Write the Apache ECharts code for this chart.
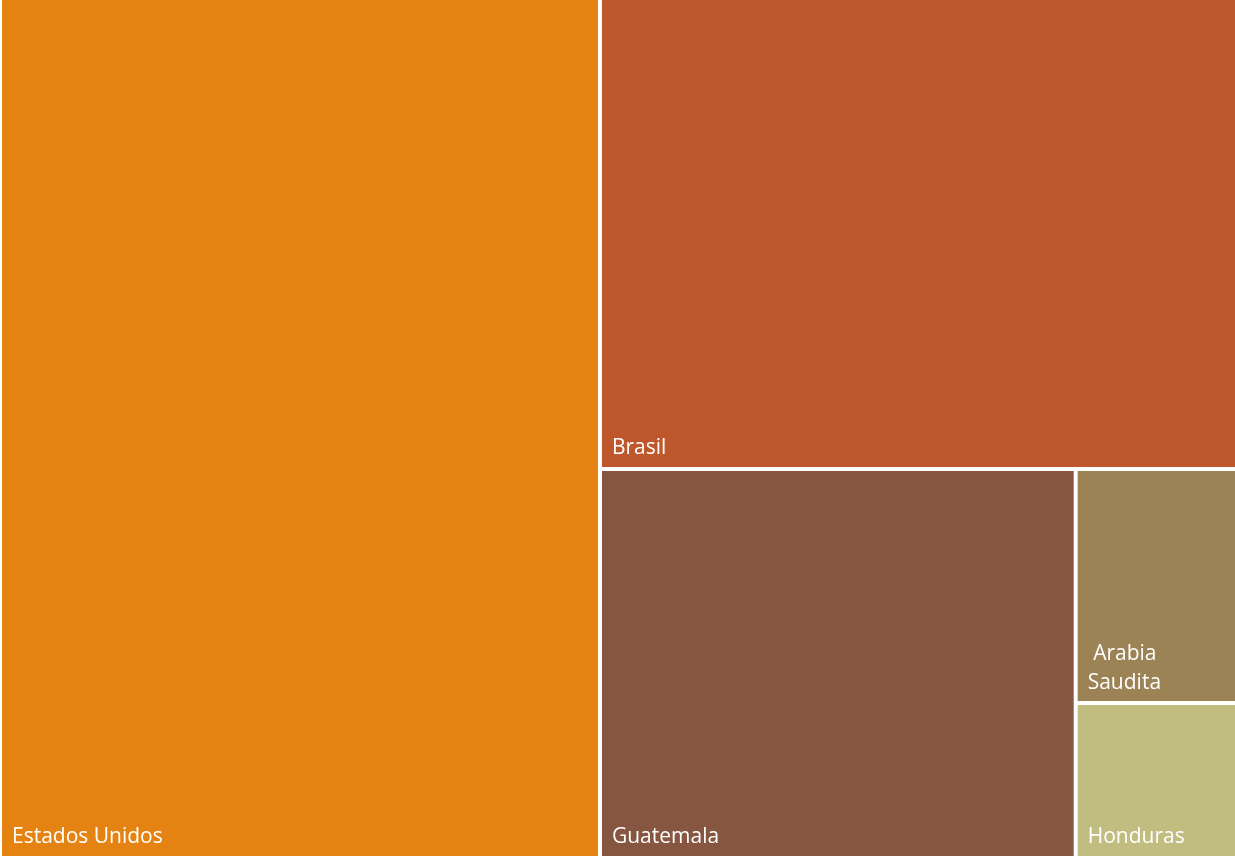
<!DOCTYPE html>
<html lang="es">
<head>
    <meta charset="UTF-8">
    <title>Treemap</title>
    <script src="https://cdn.jsdelivr.net/npm/echarts@6/dist/echarts.min.js"></script>
</head>
<body style="margin: 0; background: #ffffff">
<div id="chart" style="width: 1235px; height: 856px"></div>

<script>
    // datos (% aprox.)
    let countries = ['Estados Unidos', 'Brasil', 'Guatemala', 'Arabia Saudita', 'Honduras'];
    let shares = [48.5, 28.2, 17.4, 3.55, 2.35];
    let colors = ['#E58312', '#BE582C', '#865641', '#9B8356', '#C1BC7F'];

    let data = countries.map(function (name, i) {
        return {
            name: name,
            value: shares[i],
            itemStyle: { color: colors[i] }
        };
    });

    let chart = echarts.init(document.getElementById('chart'));
    chart.setOption({
        animation: false,
        series: [{
            type: 'treemap',
            left: 2,
            top: 0,
            width: 1233,
            height: 856,
            roam: false,
            nodeClick: false,
            squareRatio: 1,
            breadcrumb: { show: false },
            levels: [{
                itemStyle: { gapWidth: 4, borderWidth: 0 }
            }],
            itemStyle: { borderWidth: 0, gapWidth: 4 },
            label: {
                show: true,
                position: 'insideBottomLeft',
                distance: 5,
                padding: [0, 0, -1, 5],
                color: '#ffffff',
                fontFamily: 'Open Sans',
                fontSize: 21,
                lineHeight: 29,
                formatter: function (p) {
                    // la etiqueta larga se parte en dos lineas
                    return p.name === 'Arabia Saudita' ? ' Arabia\nSaudita' : p.name;
                }
            },
            upperLabel: { show: false },
            data: data
        }]
    });
</script>
</body>
</html>
